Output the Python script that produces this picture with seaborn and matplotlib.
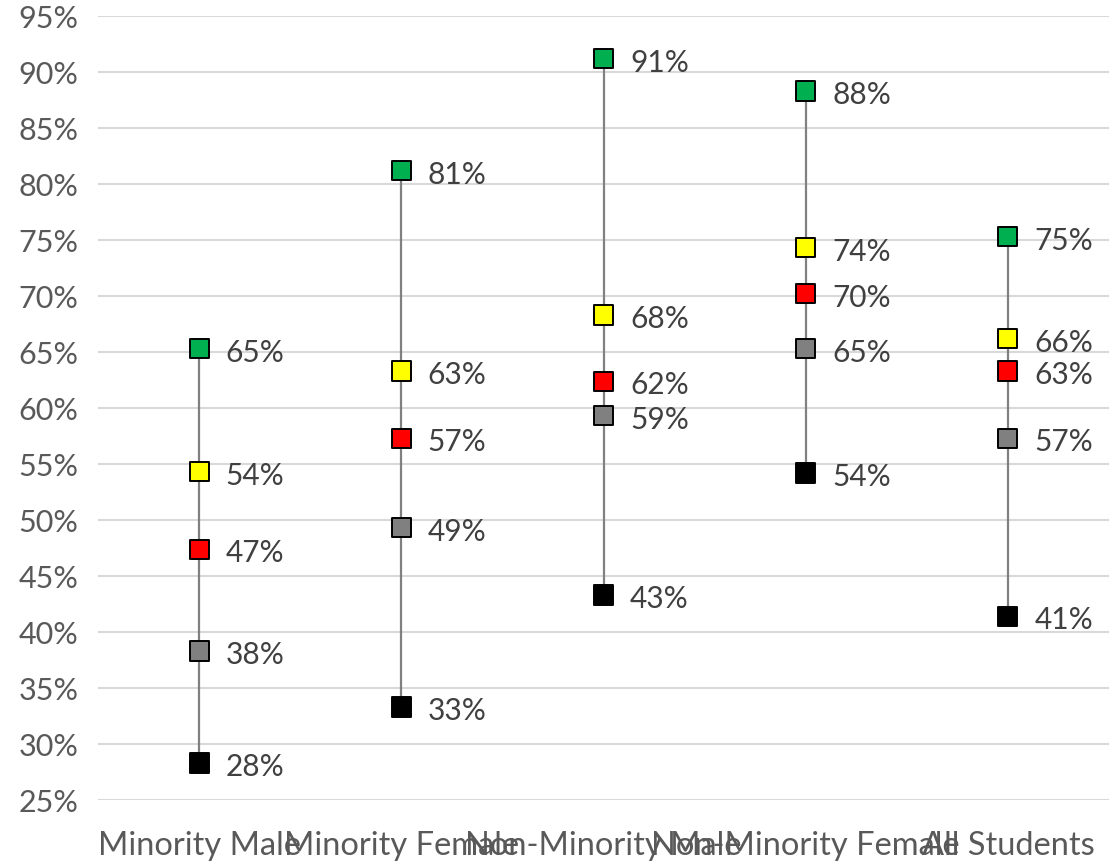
import numpy as np
import pandas as pd
import seaborn as sns
import matplotlib.pyplot as plt
from matplotlib.ticker import FuncFormatter

# -----------------------------
# Data (%)
# -----------------------------
categories = ["Minority Male", "Minority Female", "Non-Minority Male",
              "Non-Minority Female", "All Students"]
series_names = ["S1", "S2", "S3", "S4", "S5"]

s1_green = [65.3, 81.2, 91.2, 88.3, 75.3]
s2_yellow = [54.3, 63.3, 68.3, 74.3, 66.2]
s3_red = [47.4, 57.3, 62.4, 70.2, 63.3]
s4_gray = [38.3, 49.3, 59.3, 65.3, 57.3]
s5_black = [28.3, 33.3, 43.3, 54.2, 41.4]

colors = ["#00B050", "#FFFF00", "#FF0000", "#808080", "#000000"]

# -----------------------------
# Long dataframe
# -----------------------------
frames = []
for name, vals in zip(series_names, [s1_green, s2_yellow, s3_red, s4_gray, s5_black]):
    frames.append(pd.DataFrame({"category": categories, "series": name, "value": vals}))
df = pd.concat(frames, ignore_index=True)
df["x"] = df["category"].map({c: i for i, c in enumerate(categories)})

# -----------------------------
# Plot
# -----------------------------
sns.set_style("white")
plt.rcParams["font.family"] = ["Lato", "DejaVu Sans"]

fig = plt.figure(figsize=(11.09, 8.65), dpi=100)
ax = fig.add_axes([98 / 1109, 1 - 800 / 865, 1 - 98 / 1109, (800 - 16) / 865])

# high-low lines
rng = df.groupby("x")["value"].agg(["min", "max"]).reset_index()
ax.vlines(rng["x"], rng["min"], rng["max"], color="#808080", lw=1.6, zorder=2)

sns.scatterplot(
    data=df, x="x", y="value", hue="series",
    palette=dict(zip(series_names, colors)),
    marker="s", s=190, edgecolor="black", linewidth=1.4,
    legend=False, zorder=3, ax=ax
)

for _, r in df.iterrows():
    ax.annotate(f"{r['value']:.0f}%", (r["x"], r["value"]),
                xytext=(19, -3), textcoords="offset points",
                ha="left", va="center", fontsize=21.5, color="#404040")

ax.set_xlim(-0.5, 4.5)
ax.set_ylim(25, 95)
ax.set_yticks(np.arange(25, 96, 5))
ax.yaxis.set_major_formatter(FuncFormatter(lambda v, p: f"{v:.0f}%"))
ax.set_xticks(range(len(categories)))
ax.set_xticklabels(categories)
ax.grid(axis="y", color="#D9D9D9", lw=1.5, zorder=0)
ax.set_axisbelow(True)
for sp in ax.spines.values():
    sp.set_visible(False)
ax.tick_params(axis="both", length=0, colors="#595959")
ax.tick_params(axis="y", pad=14, labelsize=22)
ax.tick_params(axis="x", pad=22, labelsize=23.5)
ax.set_xlabel("")
ax.set_ylabel("")

plt.savefig("out.png", dpi=100)
plt.close()
